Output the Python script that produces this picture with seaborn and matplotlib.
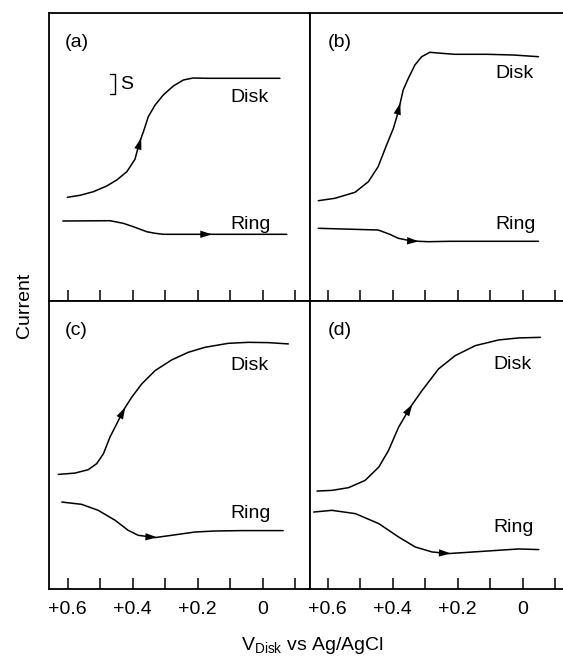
import matplotlib
matplotlib.use('Agg')
import matplotlib.pyplot as plt
import seaborn as sns
import pandas as pd
import numpy as np

sns.set_style('ticks')
plt.rcParams['font.family'] = ['Liberation Sans', 'DejaVu Sans']
plt.rcParams['text.color'] = 'black'
plt.rcParams['mathtext.fontset'] = 'custom'
plt.rcParams['mathtext.rm'] = 'Liberation Sans'
plt.rcParams['mathtext.it'] = 'Liberation Sans:italic'

# potentials (V vs Ag/AgCl) and currents (arbitrary units)
disk_a_v = [0.601, 0.562, 0.521, 0.480, 0.449, 0.418, 0.393, 0.380, 0.367, 0.352, 0.331,
            0.306, 0.275, 0.244, 0.214, 0.172, -0.053]
disk_a_i = [103.7, 105.7, 109.3, 115, 121, 129.3, 141.7, 157.7, 169.3, 184.3, 196,
            206, 215, 221, 223, 222.7, 222.7]
ring_a_v = [0.615, 0.470, 0.429, 0.398, 0.357, 0.331, 0.306, 0.172, -0.074]
ring_a_i = [80, 80.3, 77.7, 74.3, 69.3, 67.7, 66.7, 66.7, 66.7]

disk_b_v = [0.629, 0.578, 0.516, 0.475, 0.445, 0.419, 0.398, 0.383, 0.368, 0.352, 0.332,
            0.311, 0.286, 0.250, 0.209, 0.111, 0.029, -0.048]
disk_b_i = [100.3, 102.7, 108.7, 119.3, 134.3, 156, 172.7, 189.3, 211, 222.7, 236,
            244.3, 248.7, 247.7, 246.7, 246.7, 246, 244.3]
ring_b_v = [0.629, 0.445, 0.409, 0.383, 0.342, 0.291, 0.224, -0.048]
ring_b_i = [72.7, 71, 66.7, 62.7, 60, 59.3, 59.7, 59.7]

disk_c_v = [0.629, 0.578, 0.537, 0.511, 0.490, 0.470, 0.449, 0.429, 0.403, 0.372, 0.331,
            0.280, 0.229, 0.178, 0.106, 0.044, -0.017, -0.079]
disk_c_i = [114.3, 115.6, 119, 125, 135, 151.6, 165, 178.3, 191.6, 205, 218.3,
            229, 236.6, 241.6, 245.6, 246.6, 246.3, 245]
ring_c_v = [0.618, 0.557, 0.506, 0.454, 0.414, 0.383, 0.331, 0.280, 0.208, 0.147, 0.065, -0.063]
ring_c_i = [86.6, 84.3, 78.3, 68.3, 58.3, 53.3, 51, 53.3, 56.6, 57.6, 58, 58]

disk_d_v = [0.633, 0.587, 0.536, 0.485, 0.443, 0.413, 0.382, 0.346, 0.310, 0.259, 0.208,
            0.146, 0.074, 0.013, -0.054]
disk_d_i = [97.6, 98.3, 101, 108.3, 121.6, 138.3, 161.6, 181.6, 198.3, 220, 233.3,
            243.3, 249, 251, 251.6]
ring_d_v = [0.643, 0.587, 0.515, 0.443, 0.382, 0.331, 0.279, 0.228, 0.166, 0.074, 0.013, -0.049]
ring_d_i = [76.6, 78.3, 75, 65, 51.6, 41.6, 36.6, 35, 36.3, 38.3, 39.6, 39]

panel_labels = ['(a)', '(b)', '(c)', '(d)']
disk_arrow_v = [0.380, 0.383, 0.429, 0.346]
ring_arrow_v = [0.162, 0.326, 0.331, 0.228]
disk_label_pos = [(0.100, 203), (0.085, 227), (0.100, 223), (0.092, 224)]
ring_label_pos = [(0.100, 76), (0.085, 76), (0.100, 75.6), (0.092, 61)]

tick_vals = [0.6, 0.5, 0.4, 0.3, 0.2, 0.1, 0.0, -0.1]
tick_text = ['+0.6', '', '+0.4', '', '+0.2', '', '0', '']

panels = [
    (disk_a_v, disk_a_i, ring_a_v, ring_a_i),
    (disk_b_v, disk_b_i, ring_b_v, ring_b_i),
    (disk_c_v, disk_c_i, ring_c_v, ring_c_i),
    (disk_d_v, disk_d_i, ring_d_v, ring_d_i),
]

W, H = 563, 658
fig = plt.figure(figsize=(W / 100, H / 100), dpi=100)

# axes boxes in pixels: (left, top, right, bottom)
boxes = [(49, 13, 309.5, 301), (309.5, 13, 570, 301),
         (49, 301, 309.5, 588.5), (309.5, 301, 570, 588.5)]
xlims = [(0.6575, -0.144), (0.656, -0.145), (0.6575, -0.144), (0.656, -0.145)]


def add_arrow(ax, v, i, at):
    vv = np.array(v)[::-1]
    ii = np.array(i)[::-1]
    y_tip = np.interp(at - 0.006, vv, ii)
    y_back = np.interp(at + 0.012, vv, ii)
    ax.annotate('', xy=(at - 0.006, y_tip), xytext=(at + 0.012, y_back),
                arrowprops=dict(arrowstyle='-|>,head_length=0.7,head_width=0.22',
                                color='black', lw=0.01, shrinkA=0, shrinkB=0,
                                mutation_scale=12))


for k, (dv, di, rv, ri) in enumerate(panels):
    l, t, r, b = boxes[k]
    ax = fig.add_axes([l / W, 1 - b / H, (r - l) / W, (b - t) / H])
    disk = pd.DataFrame({'V': dv, 'I': di})
    ring = pd.DataFrame({'V': rv, 'I': ri})
    sns.lineplot(data=disk, x='V', y='I', sort=False, estimator=None,
                 color='black', lw=1.1, ax=ax)
    sns.lineplot(data=ring, x='V', y='I', sort=False, estimator=None,
                 color='black', lw=1.1, ax=ax)
    add_arrow(ax, dv, di, disk_arrow_v[k])
    add_arrow(ax, rv, ri, ring_arrow_v[k])

    ax.set_xlim(*xlims[k])
    ax.set_ylim(0, 288)
    ax.set_xlabel('')
    ax.set_ylabel('')
    ax.set_yticks([])
    ax.set_xticks(tick_vals)
    if k >= 2:
        ax.set_xticklabels(tick_text)
    else:
        ax.set_xticklabels([])
    ax.tick_params(axis='x', direction='in', length=8, width=1.1,
                   labelsize=14, pad=9, colors='black')
    for s in ax.spines.values():
        s.set_color('black')
        s.set_linewidth(1.3)

    ax.text(0.608 if k % 2 == 0 else 0.600, 258, panel_labels[k],
            fontsize=14, ha='left', va='center')
    ax.text(*disk_label_pos[k], 'Disk', fontsize=14, ha='left', va='center')
    ax.text(*ring_label_pos[k], 'Ring', fontsize=14, ha='left', va='center')

    if k == 0:
        # scale bar
        ax.plot([0.470, 0.454, 0.454, 0.470], [227, 227, 206.7, 206.7],
                color='black', lw=1.0)
        ax.text(0.440, 216, 'S', fontsize=14, ha='left', va='center')

fig.text(25 / W, 1 - 305 / H, 'Current', rotation=90, fontsize=14,
         ha='center', va='center')
fig.text(312 / W, 1 - 645 / H, r'$\mathrm{V_{Disk}}$ vs Ag/AgCl', fontsize=14,
         ha='center', va='center')

fig.savefig('out.png', dpi=100)
